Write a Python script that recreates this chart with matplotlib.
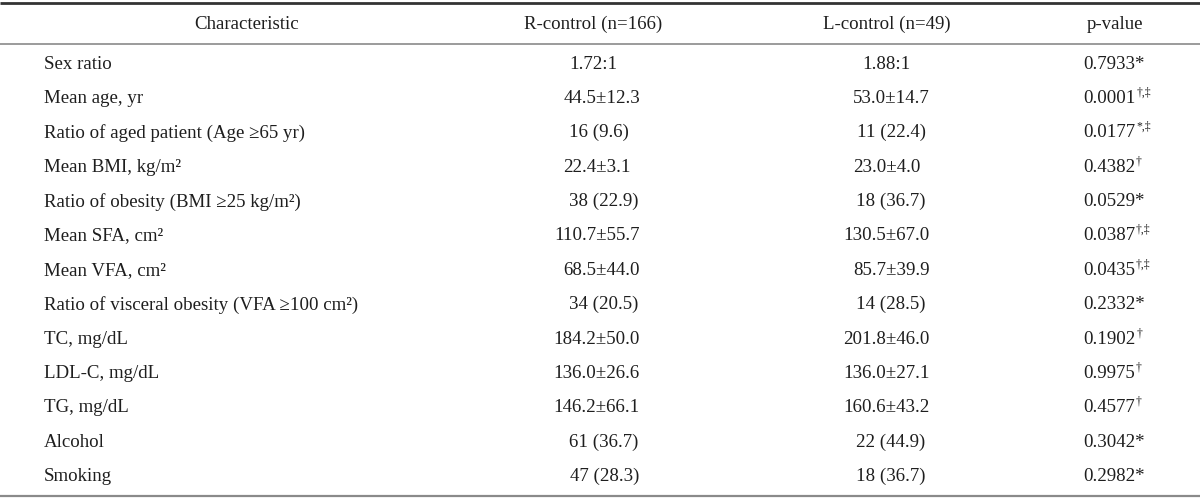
import matplotlib
matplotlib.use("Agg")
import matplotlib.pyplot as plt

matplotlib.rcParams.update({
    'font.family': ['Liberation Serif', 'DejaVu Serif'],
})

headers = ['Characteristic', 'R-control (n=166)', 'L-control (n=49)', 'p-value']

characteristics = [
    'Sex ratio',
    'Mean age, yr',
    'Ratio of aged patient (Age \u226565 yr)',
    'Mean BMI, kg/m\u00b2',
    'Ratio of obesity (BMI \u226525 kg/m\u00b2)',
    'Mean SFA, cm\u00b2',
    'Mean VFA, cm\u00b2',
    'Ratio of visceral obesity (VFA \u2265100 cm\u00b2)',
    'TC, mg/dL',
    'LDL-C, mg/dL',
    'TG, mg/dL',
    'Alcohol',
    'Smoking',
]

r_control = ['1.72:1', '44.5\u00b112.3', '16 (9.6)', '22.4\u00b13.1', '38 (22.9)',
             '110.7\u00b155.7', '68.5\u00b144.0', '34 (20.5)', '184.2\u00b150.0',
             '136.0\u00b126.6', '146.2\u00b166.1', '61 (36.7)', '47 (28.3)']

l_control = ['1.88:1', '53.0\u00b114.7', '11 (22.4)', '23.0\u00b14.0', '18 (36.7)',
             '130.5\u00b167.0', '85.7\u00b139.9', '14 (28.5)', '201.8\u00b146.0',
             '136.0\u00b127.1', '160.6\u00b143.2', '22 (44.9)', '18 (36.7)']

p_values = ['0.7933', '0.0001', '0.0177', '0.4382', '0.0529', '0.0387', '0.0435',
            '0.2332', '0.1902', '0.9975', '0.4577', '0.3042', '0.2982']

# footnote marks: a lone '*' is set inline, the rest as superscripts
p_marks = ['*', '\u2020,\u2021', '*,\u2021', '\u2020', '*', '\u2020,\u2021',
           '\u2020,\u2021', '*', '\u2020', '\u2020', '\u2020', '*', '*']

W, H = 1200, 499
fig = plt.figure(figsize=(W / 100, H / 100), dpi=100)
ax = fig.add_axes([0, 0, 1, 1])
ax.set_xlim(0, W)
ax.set_ylim(H, 0)
ax.axis('off')
renderer = fig.canvas.get_renderer()

fs = 13.6
txt = '#1e1e1e'

# rules
ax.plot([0, W], [3, 3], color='#333333', lw=2.0, solid_capstyle='butt')
ax.plot([0, W], [44, 44], color='#8a8a8a', lw=1.2, solid_capstyle='butt')
ax.plot([0, W], [496, 496], color='#8a8a8a', lw=1.6, solid_capstyle='butt')

# header
header_x = [247, 593, 887, 1115]
for hx, h in zip(header_x, headers):
    ax.text(hx, 24, h, ha='center', va='center', fontsize=fs, color=txt)

row_y0, row_dy = 64, 34.4


def text_width(s, size=fs):
    t = ax.text(0, 0, s, fontsize=size)
    w = t.get_window_extent(renderer).width
    t.remove()
    return w


def put_value(anchors, y, s):
    # the plus-minus sign or the opening bracket sits on a fixed x
    pm_x, paren_x, mid_x = anchors
    if '\u00b1' in s:
        suffix = s[s.index('\u00b1'):]
        ax.text(pm_x + text_width(suffix), y, s, ha='right', va='center', fontsize=fs, color=txt)
    elif '(' in s:
        suffix = s[s.index('('):]
        ax.text(paren_x + text_width(suffix), y, s, ha='right', va='center', fontsize=fs, color=txt)
    else:
        ax.text(mid_x, y, s, ha='center', va='center', fontsize=fs, color=txt)


r_anchor = (596, 593, 593)
l_anchor = (886, 880, 886)
p_x = 1083

for i, label in enumerate(characteristics):
    y = row_y0 + i * row_dy
    ax.text(44, y, label, ha='left', va='center', fontsize=fs, color=txt)
    put_value(r_anchor, y, r_control[i])
    put_value(l_anchor, y, l_control[i])
    mark = p_marks[i]
    if mark == '*':
        ax.text(p_x, y, p_values[i] + '*', ha='left', va='center', fontsize=fs, color=txt)
    else:
        ax.text(p_x, y, p_values[i], ha='left', va='center', fontsize=fs, color=txt)
        ax.text(p_x + text_width(p_values[i]) + 1, y - 6, mark, ha='left', va='center',
                fontsize=8.5, color=txt)

fig.savefig('out.png', dpi=100)
